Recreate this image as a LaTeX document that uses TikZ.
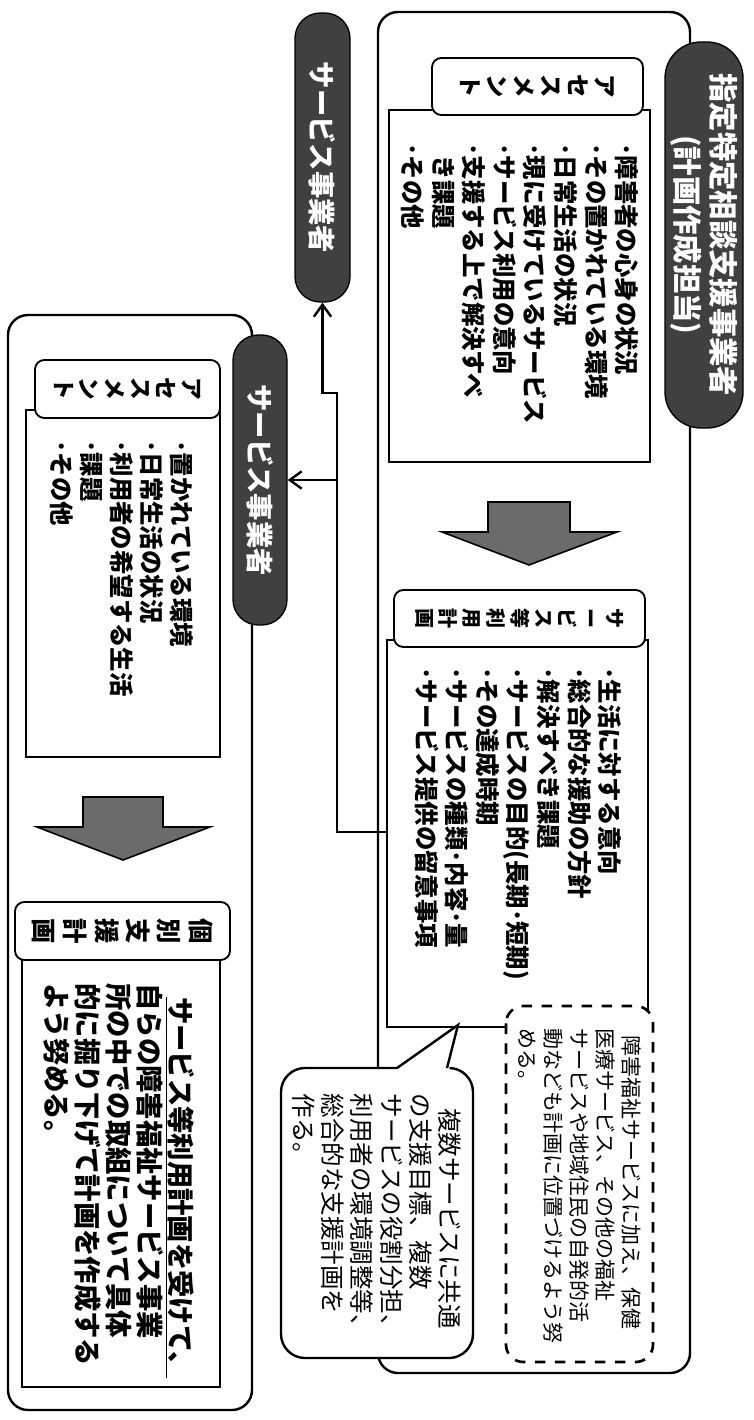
\documentclass[tikz,border=0pt]{standalone}
\usepackage{fontspec}
\setmainfont{Noto Sans CJK JP}
\usetikzlibrary{arrows.meta}
\tikzset{every picture/.style={line width=0.75pt}}

\begin{document}
\begin{tikzpicture}[x=0.75pt,y=0.75pt,yscale=-1,xscale=1,
  frame/.style={line width=1.8pt, rounded corners=15pt},
  listbox/.style={line width=1.5pt, fill=white},
  tag/.style={draw, line width=1.4pt, fill=white, rounded corners=7pt, rotate=-90, align=center, inner sep=0pt},
  pill/.style={draw=black, line width=1pt, fill=black!75, text=white, rotate=-90, align=center, inner sep=0pt},
  txt/.style={rotate=-90, anchor=north west, inner sep=0pt, align=left},
  wire/.style={line width=1.8pt},
  tip/.style={-{Straight Barb[length=9pt,width=13pt]}},
  blockarrow/.style={draw, line width=1.2pt, fill=black!58}]
\useasboundingbox (0,0) rectangle (753,1420);
\fill[white] (0,0) rectangle (753,1420);

%Rounded Rect: planner frame
\draw[frame] (378,12) rectangle (690,1373);
%Rounded Rect: provider frame
\draw[frame] (8,315) rectangle (252,1410);

%Shape: list boxes
\draw[listbox] (389,110) rectangle (650,462);
\draw[listbox] (387,640) rectangle (648,1027);
\draw[listbox] (26,410) rectangle (220,757);
\draw[listbox] (22,955) rectangle (220,1387);

%Shape: block arrows
\draw[blockarrow] (488,502) -- (570,502) -- (570,532) -- (617,532) -- (529,565) -- (442,532) -- (488,532) -- cycle;
\draw[blockarrow] (83,797) -- (163,797) -- (163,827) -- (210,827) -- (123,860) -- (37,827) -- (83,827) -- cycle;

% Pill Nodes
\node[pill, minimum width=289.5pt, minimum height=58.5pt, rounded corners=27pt, font=\bfseries\fontsize{22}{27}\selectfont] (pillA) at (704,235) {指定特定相談支援事業者\\(計画作成担当)};
\node[pill, minimum width=216.75pt, minimum height=41.25pt, rounded corners=19pt, font=\bfseries\fontsize{20.5}{24}\selectfont] (pillB) at (322.5,157.5) {サービス事業者};
\node[pill, minimum width=217.5pt, minimum height=40.5pt, rounded corners=19pt, font=\bfseries\fontsize{20.5}{24}\selectfont] (pillC) at (260,480) {サービス事業者};

% Tag Nodes
\node[tag, minimum width=42.75pt, minimum height=158.25pt, font=\bfseries\fontsize{17.5}{20.25}\selectfont] (asmA) at (537.5,86.5) {ア\\セ\\ス\\メ\\ン\\ト};
\node[tag, minimum width=42.75pt, minimum height=188.25pt, font=\bfseries\fontsize{15}{17.85}\selectfont] (planA) at (519.5,618.5) {サ\\ー\\ビ\\ス\\等\\利\\用\\計\\画};
\node[tag, minimum width=43.5pt, minimum height=138.75pt, font=\bfseries\fontsize{17}{19.2}\selectfont] (asmB) at (127.5,389) {ア\\セ\\ス\\メ\\ン\\ト};
\node[tag, minimum width=43.5pt, minimum height=161.25pt, font=\bfseries\fontsize{19}{23.5}\selectfont] (planB) at (122.5,931) {個\\別\\支\\援\\計\\画};

% Text Node
\node[txt, font=\bfseries\fontsize{18.3}{22.9}\selectfont] (listA) at (639,143) {･障害者の心身の状況\\･その置かれている環境\\･日常生活の状況\\･現に受けているサービス\\･サービス利用の意向\\･支援する上で解決すべ\\\hspace*{0.5em}き課題\\･その他};
% Text Node
\node[txt, font=\bfseries\fontsize{18.3}{22.9}\selectfont] (listB) at (622,667) {･生活に対する意向\\･総合的な援助の方針\\･解決すべき課題\\･サービスの目的(長期･短期)\\･その達成時期\\･サービスの種類･内容･量\\･サービス提供の留意事項};
% Text Node
\node[txt, font=\bfseries\fontsize{18.3}{22.5}\selectfont] (listC) at (194,440) {･置かれている環境\\･日常生活の状況\\･利用者の希望する生活\\･課題\\･その他};
% Text Node
\node[txt, font=\bfseries\fontsize{20.5}{23.25}\selectfont] (planText) at (195,983) {\hspace*{0.5em}\underline{サービス等利用計画を受けて、}\\自らの障害福祉サービス事業\\所の中での取組について具体\\的に掘り下げて計画を作成する\\よう努める。};

%Connectors
\coordinate (planW) at (387,832);
\coordinate (fork) at (337,480);
\coordinate (jog) at (337,393);
\draw[wire] (planW) -- (planW -| fork) -- (fork);
\draw[wire, tip] (fork) -- (fork -| pillC.north);
\draw[wire, tip] (fork) -- (jog) -- (jog -| pillB.east) -- (pillB.east);

%Dashed Rounded Rect
\draw[line width=2pt, dash pattern=on 8pt off 7pt, rounded corners=13pt, fill=white] (506,1006) rectangle (653,1362);
% Text Node
\node[txt, font=\fontsize{15.75}{19.5}\selectfont] (noteA) at (642,1028) {\hspace*{0.35em}障害福祉サービスに加え、保健\\医療サービス、その他の福祉\\サービスや地域住民の自発的活\\動なども計画に位置づけるよう努\\める。};

%Callout
\draw[line width=1.8pt, rounded corners=18pt, fill=white] (281,1068) rectangle (473,1358);
\fill[white] (395,1070.5) -- (458,1025) -- (449,1070.5) -- cycle;
\draw[line width=1.8pt, line join=miter] (397,1068) -- (458,1025) -- (447,1068);
% Text Node
\node[txt, font=\fontsize{18.4}{22}\selectfont] (noteB) at (462,1093) {\hspace*{0.6em}複数サービスに共通\\の支援目標、複数\\サービスの役割分担、\\利用者の環境調整等、\\総合的な支援計画を\\作る。};

\end{tikzpicture}
\end{document}
